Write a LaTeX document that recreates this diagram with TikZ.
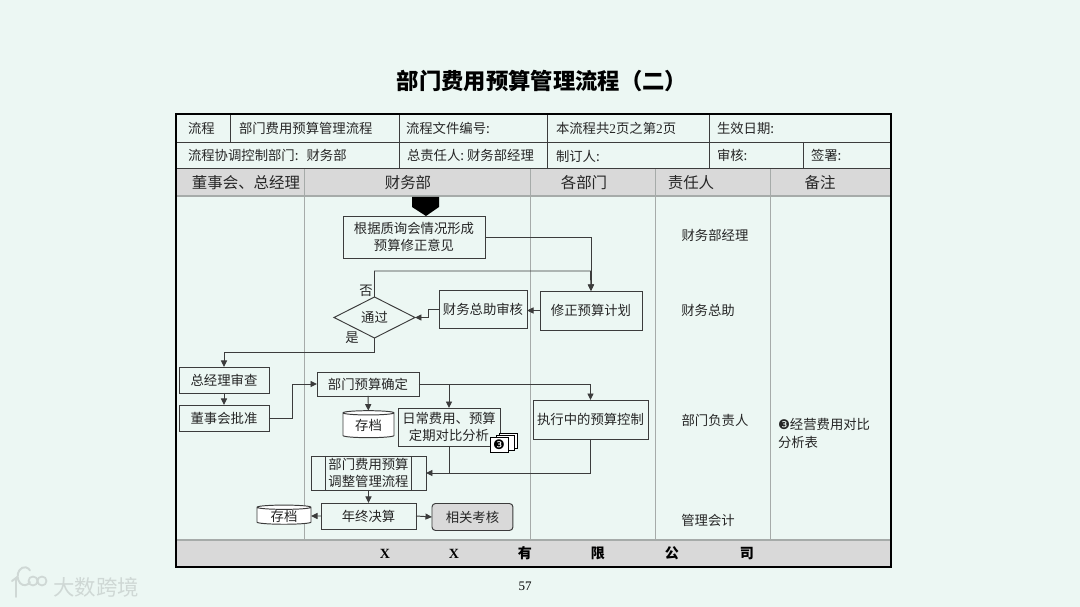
\documentclass[tikz,border=0pt]{standalone}
\usepackage{fontspec}
\setmainfont{Liberation Serif}
\newfontfamily\cjk{Noto Sans CJK SC}
\newfontfamily\symfont{DejaVu Sans}
\usetikzlibrary{arrows.meta,positioning,shapes.geometric}
\definecolor{paper}{HTML}{ECF7F3}
\definecolor{band}{HTML}{D9D9D9}
\definecolor{ink}{HTML}{3C3C3C}
\definecolor{rule}{HTML}{A6ABA9}
\definecolor{brandgray}{HTML}{CFD8D5}
\tikzset{
  cell/.style={anchor=west, inner sep=0pt, outer sep=0pt, font=\cjk\fontsize{7.6}{9.5}\selectfont, text=black!85},
  headcell/.style={inner sep=0pt, font=\cjk\fontsize{8.8}{10}\selectfont, text=black!85},
  duty/.style={cell, anchor=center},
  proc/.style={draw=ink, line width=0.55pt, rectangle, inner sep=0pt, outer sep=0pt, align=center, font=\cjk\fontsize{7.6}{9.4}\selectfont, text=black!85},
  choice/.style={proc, diamond, aspect=2, minimum width=1.62cm, minimum height=.82cm},
  archive/.style={proc, cylinder, shape border rotate=90, aspect=.16, cylinder uses custom fill, cylinder body fill=white, cylinder end fill=white},
  sheet/.style={draw=black, line width=0.4pt, fill=white, rectangle, inner sep=0pt, minimum width=.36cm, minimum height=.3cm},
  flow/.style={-{Triangle[length=1.3mm,width=1.2mm]}, ink, line width=0.55pt},
  gridline/.style={draw=ink, line width=0.55pt},
  laneline/.style={draw=rule, line width=0.55pt},
  brandline/.style={draw=brandgray, line width=1.1pt, line cap=round},
}
\newcommand{\latin}[1]{{\rmfamily #1}}

\begin{document}
\begin{tikzpicture}[x=0.02cm, y=-0.02cm]
    \useasboundingbox[fill=paper] (0,0) rectangle (1080,607);
    \node[inner sep=0pt, font=\cjk\bfseries\fontsize{12.7}{14}\selectfont] (title) at (542,81) {部门费用预算管理流程（二）};

    % bands and lanes
    \fill[band] (176,168.5) rectangle (891,196);
    \fill[band] (176,540) rectangle (891,567);
    \foreach \x in {304,530,655,770} \draw[laneline] (\x,168.5) -- (\x,540);
    \draw[laneline, line width=0.9pt] (176,196) -- (891,196);
    \draw[laneline, line width=0.9pt] (176,540) -- (891,540);
    \draw[gridline] (176,142) -- (891,142);
    \draw[gridline] (176,168.5) -- (891,168.5);
    \foreach \x in {230,399,547,709} \draw[gridline] (\x,114) -- (\x,142);
    \foreach \x in {399,547,709,803} \draw[gridline] (\x,142) -- (\x,168.5);
    \draw[black, line width=1.5pt] (176,114) rectangle (891,567);

    % table text
    \node[cell] (c1) at (188,128) {流程};
    \node[cell] (c2) at (239,128) {部门费用预算管理流程};
    \node[cell] (c3) at (406,128) {流程文件编号:};
    \node[cell] (c4) at (556,128) {本流程共\latin{2}页之第\latin{2}页};
    \node[cell] (c5) at (717,128) {生效日期:};
    \node[cell] (d1) at (188,155) {流程协调控制部门:\hspace{.6em}财务部};
    \node[cell] (d2) at (407,155) {总责任人:~财务部经理};
    \node[cell] (d3) at (556,156) {制订人:};
    \node[cell] (d4) at (717,155) {审核:};
    \node[cell] (d5) at (811,155) {签署:};

    \node[headcell] (h1) at (246,183) {董事会、总经理};
    \node[headcell] (h2) at (408,183) {财务部};
    \node[headcell] (h3) at (584,183) {各部门};
    \node[headcell] (h4) at (691,183) {责任人};
    \node[headcell] (h5) at (820,183) {备注};

    \fill[black] (412,197) -- (439,197) -- (439,207) -- (426,216) -- (412,207) -- cycle;

    % flow boxes
    \node[proc, minimum width=2.84cm, minimum height=.84cm] (opinion) at (414,237) {根据质询会情况形成\\预算修正意见};
    \node[proc, minimum width=2.04cm, minimum height=.78cm] (revise) at (591,310.5) {修正预算计划};
    \node[proc, minimum width=1.76cm, minimum height=.76cm, left=.26cm of revise, yshift=.03cm] (review) {财务总助审核};
    \node[choice] (pass) at (374.5,317.5) {通过};
    \node[cell, anchor=center] (no) at (366,291) {否};
    \node[cell, anchor=center] (yes) at (352,338) {是};

    \node[proc, minimum width=1.8cm, minimum height=.52cm] (gm) at (224,380) {总经理审查};
    \node[proc, minimum width=1.8cm, minimum height=.52cm, below=.24cm of gm] (board) {董事会批准};
    \node[proc, minimum width=2.04cm, minimum height=.48cm] (budget) at (368,384) {部门预算确定};
    \node[archive, minimum width=1.02cm, minimum height=.54cm] (storea) at (368.5,425.5) {存档};
    \node[proc, minimum width=2.04cm, minimum height=.76cm] (compare) at (449,427) {日常费用、预算\\定期对比分析\hspace{1em}};
    \node[proc, minimum width=2.3cm, minimum height=.78cm] (control) at (590.5,419.5) {执行中的预算控制};
    \node[proc, minimum width=2.3cm, minimum height=.68cm] (adjust) at (368.5,473) {部门费用预算\\调整管理流程};
    \node[proc, minimum width=1.9cm, minimum height=.52cm, below=.26cm of adjust] (yearend) {年终决算};
    \node[archive, minimum width=1.08cm, minimum height=.38cm, left=.2cm of yearend] (storeb) {存档};
    \node[proc, fill=band, rounded corners=2pt, minimum width=1.62cm, minimum height=.54cm, right=.32cm of yearend, yshift=-.02cm] (assess) {相关考核};
    \draw[gridline] ([xshift=.28cm]adjust.north west) -- ([xshift=.28cm]adjust.south west);
    \draw[gridline] ([xshift=-.3cm]adjust.north east) -- ([xshift=-.3cm]adjust.south east);

    \node[sheet] (sheetc) at (508,441) {};
    \node[sheet] (sheetb) at (505,443) {};
    \node[sheet] (sheeta) at (499,444.5) {};
    \node[inner sep=0pt, font=\symfont\fontsize{7.5}{8}\selectfont] (badge) at (sheeta) {❸};

    % owners and notes
    \node[duty] (o1) at (715,235) {财务部经理};
    \node[duty] (o2) at (708,310) {财务总助};
    \node[duty] (o3) at (715,420) {部门负责人};
    \node[duty] (o4) at (708,520) {管理会计};
    \node[cell, align=left, font=\cjk\fontsize{7.6}{10}\selectfont] (note) at (778,433.5) {{\symfont ❸}经营费用对比\\分析表};

    % footer
    \foreach \x/\t [count=\i] in {385/\latin{X},454/\latin{X},525/有,598/限,672/公,747/司}
      \node[inner sep=0pt, font=\cjk\bfseries\fontsize{8}{10}\selectfont] (f\i) at (\x,553.5) {\t};
    \node[inner sep=0pt, font=\fontsize{7.4}{9}\selectfont] (page) at (525,586) {57};

    % connectors
    \coordinate (retry) at (590.5,271);
    \draw[flow] (opinion.east) -| (revise.north);
    \draw[flow] (pass.north) |- (retry) -- (revise.north);
    \draw[flow] (revise.west) -- (review.east |- revise.west);
    \draw[flow] (review.west) -- ++(-11,0) |- (pass.east);
    \draw[flow] (pass.south) -- ++(0,14.5) -| (gm.north);
    \draw[flow] (gm) -- (board);
    \draw[flow] (board.east) -- ++(23.5,0) |- (budget.west);
    \draw[flow] (budget.east) -| (control.north);
    \draw[flow] (budget.east) -| (compare.north);
    \draw[flow] (budget) -- (storea);
    \draw[flow] (control.south) |- (adjust.east);
    \draw[gridline] (compare.south) -- (compare.south |- adjust.east);
    \draw[flow] (adjust) -- (yearend);
    \draw[flow] (yearend) -- (storeb);
    \draw[flow] (yearend.east) -- (assess.west);

    % watermark
    \node[inner sep=0pt, font=\cjk\fontsize{12.2}{14}\selectfont, text=brandgray] (brand) at (96,587) {大数跨境};
    \draw[brandline] (12,581) -- (16,578) -- (16,597);
    \draw[brandline] (30,582) arc (40:320:7 and 9);
    \draw[brandline, line width=1pt] (33,581) circle (4.5 and 4.5) (42,581) circle (4.5 and 4.5);
  \end{tikzpicture}
\end{document}
